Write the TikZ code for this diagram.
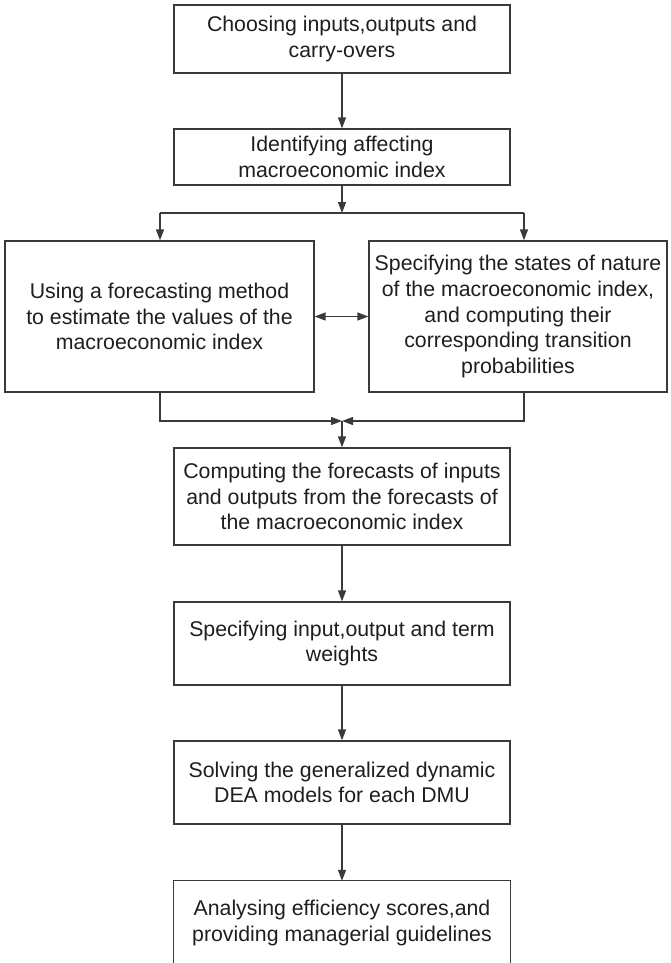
\documentclass[tikz,border=0pt]{standalone}
\usepackage{fontspec}
\setmainfont{Liberation Sans}
\usetikzlibrary{arrows.meta}
\definecolor{ink}{HTML}{1E1E1E}
\definecolor{rule}{HTML}{3A3A3A}
\begin{document}
\begin{tikzpicture}[x=1bp,y=-1bp,
  every node/.style={font=\fontsize{21.3bp}{25.6bp}\selectfont, text=ink, align=center, inner sep=0pt},
  stepbox/.style={draw=rule, line width=1.3bp, rectangle},
  link/.style={draw=rule, line width=1.3bp},
  arr/.style={link, -{Triangle[length=11bp,width=8bp]}},
  dbl/.style={link, {Triangle[length=11bp,width=8bp]}-{Triangle[length=11bp,width=8bp]}}]
\clip (0,0) rectangle (671,963);

% process steps
\node[stepbox, minimum width=336bp, minimum height=68bp] (b1) at (342,39)
  {Choosing inputs,outputs and\\carry-overs};
\node[stepbox, minimum width=336bp, minimum height=56bp] (b2) at (342,157)
  {Identifying affecting\\macroeconomic index};
\node[stepbox, minimum width=309bp, minimum height=151bp] (l) at (159.5,316.5)
  {Using a forecasting method\\to estimate the values of the\\macroeconomic index};
\node[stepbox, minimum width=298bp, minimum height=151bp] (r) at (518,316.5)
  {Specifying the states of nature\\of the macroeconomic index,\\and computing their\\corresponding transition\\probabilities};
\node[stepbox, minimum width=336bp, minimum height=97bp] (b5) at (342,496.5)
  {Computing the forecasts of inputs\\and outputs from the forecasts of\\the macroeconomic index};
\node[stepbox, minimum width=336bp, minimum height=83bp] (b6) at (342,643.5)
  {Specifying input,output and term\\weights};
\node[stepbox, minimum width=336bp, minimum height=83bp] (b7) at (342,782.5)
  {Solving the generalized dynamic\\DEA models for each DMU};
% last step runs off the lower edge: only its top and sides show
\node[minimum width=336bp, minimum height=84bp] (b8) at (342,923)
  {Analysing efficiency scores,and\\providing managerial guidelines};
\draw[link] (b8.south west) -- (b8.north west) -- (b8.north east) -- (b8.south east);

% branching and merging points
\coordinate (split) at (342,213);
\coordinate (splitL) at (160,213);
\coordinate (splitR) at (524,213);
\coordinate (merge) at (342,421);
\coordinate (mergeL) at (160,421);
\coordinate (mergeR) at (524,421);

% connectors
\draw[arr] (b1) -- (b2);
\draw[arr] (b2) -- (split);
\draw[link] (splitL) -- (splitR);
\draw[arr] (splitL) -- (splitL |- l.north);
\draw[arr] (splitR) -- (splitR |- r.north);
\draw[dbl] (l.east) -- (r.west);
\draw[arr] (mergeL |- l.south) -- (mergeL) -- (merge);
\draw[arr] (mergeR |- r.south) -- (mergeR) -- (merge);
\draw[arr] (merge) -- (b5);
\draw[arr] (b5) -- (b6);
\draw[arr] (b6) -- (b7);
\draw[arr] (b7) -- (b8.north);
\end{tikzpicture}
\end{document}
